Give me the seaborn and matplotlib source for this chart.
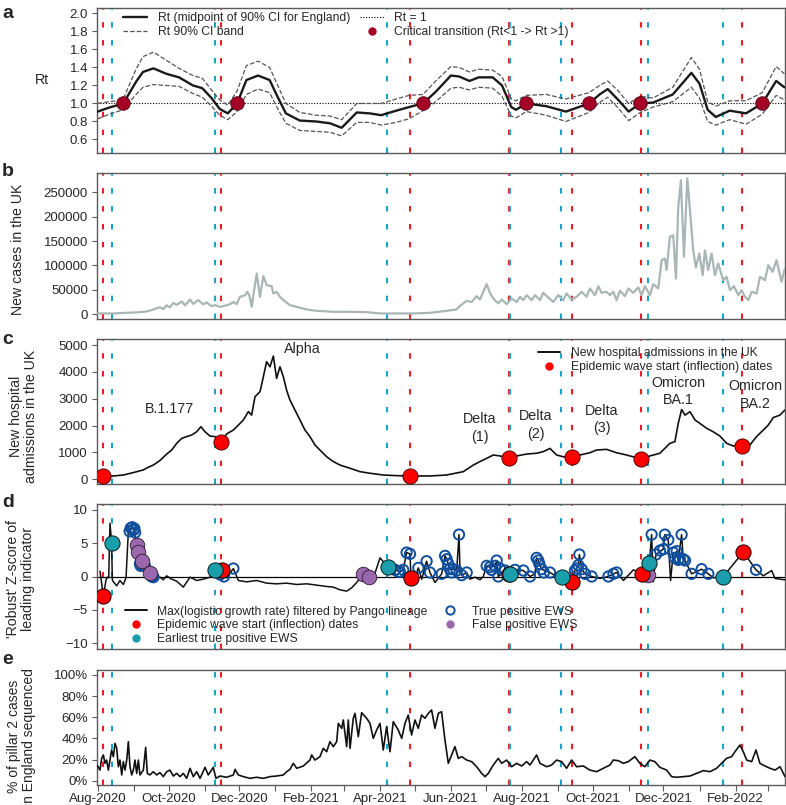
import numpy as np
import pandas as pd
import matplotlib
matplotlib.use('Agg')
import matplotlib.pyplot as plt
import matplotlib.dates as mdates
import matplotlib.ticker as mticker
from matplotlib.lines import Line2D
import seaborn as sns

sns.set_style('ticks')
plt.rcParams['font.family'] = ['Liberation Sans', 'DejaVu Sans']

# ---- data ----
START = pd.Timestamp('2020-08-01')

wave_start = ['2020-08-06', '2020-11-15', '2021-04-27', '2021-07-21',
              '2021-09-13', '2021-11-12', '2022-02-07']
earliest_ews = ['2020-08-13', '2020-11-10', '2021-04-07', '2021-07-22',
                '2021-09-04', '2021-11-18', '2022-01-21']

# panel a: Rt
rt_dates = ['2020-08-01', '2020-08-11', '2020-08-18', '2020-08-23', '2020-09-03', '2020-09-09',
            '2020-09-18', '2020-09-29', '2020-10-10', '2020-10-22', '2020-10-30', '2020-11-07',
            '2020-11-14', '2020-11-21', '2020-11-29', '2020-12-07', '2020-12-17', '2020-12-27',
            '2021-01-03', '2021-01-10', '2021-01-22', '2021-02-05', '2021-02-17', '2021-02-27',
            '2021-03-12', '2021-03-23', '2021-04-02', '2021-04-15', '2021-04-26', '2021-05-08',
            '2021-05-19', '2021-06-01', '2021-06-08', '2021-06-17', '2021-06-25', '2021-07-07',
            '2021-07-15', '2021-07-23', '2021-07-27', '2021-08-05', '2021-08-22', '2021-09-08',
            '2021-09-28', '2021-10-07', '2021-10-14', '2021-10-23', '2021-11-01', '2021-11-11',
            '2021-11-22', '2021-12-09', '2021-12-25', '2022-01-01', '2022-01-08', '2022-01-15',
            '2022-01-27', '2022-02-10', '2022-02-24', '2022-03-08', '2022-03-15']
rt_mid = [0.91, 0.955, 0.98, 1.00, 1.24, 1.35, 1.39, 1.33, 1.29, 1.20, 1.17, 1.06,
          0.94, 0.89, 1.00, 1.26, 1.31, 1.26, 1.07, 0.89, 0.81, 0.80, 0.78, 0.73,
          0.90, 0.89, 0.87, 0.92, 0.96, 1.00, 1.13, 1.31, 1.30, 1.25, 1.29, 1.29,
          1.20, 0.96, 0.93, 1.00, 0.97, 0.91, 1.00, 1.10, 1.16, 1.04, 0.91, 1.00,
          1.01, 1.10, 1.34, 1.22, 0.93, 0.85, 0.92, 0.89, 1.00, 1.25, 1.18]
rt_upper = [1.00, 1.02, 1.03, 1.05, 1.38, 1.52, 1.57, 1.48, 1.39, 1.31, 1.28, 1.15,
            1.04, 0.98, 1.14, 1.42, 1.47, 1.40, 1.20, 1.00, 0.90, 0.87, 0.86, 0.82,
            1.00, 1.00, 1.00, 1.05, 1.09, 1.10, 1.25, 1.41, 1.40, 1.35, 1.38, 1.37,
            1.30, 1.05, 1.03, 1.09, 1.10, 1.05, 1.12, 1.20, 1.25, 1.14, 1.00, 1.08,
            1.06, 1.18, 1.51, 1.38, 1.02, 0.97, 1.03, 1.03, 1.12, 1.41, 1.33]
rt_lower = [0.83, 0.88, 0.91, 0.93, 1.10, 1.18, 1.21, 1.20, 1.19, 1.11, 1.07, 0.97,
            0.87, 0.82, 0.91, 1.10, 1.16, 1.12, 0.94, 0.78, 0.70, 0.69, 0.68, 0.64,
            0.79, 0.79, 0.76, 0.79, 0.83, 0.92, 1.02, 1.17, 1.18, 1.15, 1.18, 1.17,
            1.08, 0.86, 0.84, 0.91, 0.87, 0.80, 0.90, 1.01, 1.07, 0.95, 0.81, 0.90,
            0.96, 1.02, 1.18, 1.06, 0.80, 0.76, 0.82, 0.77, 0.88, 1.09, 1.04]
crit_dates = ['2020-08-23', '2020-11-29', '2021-05-08', '2021-08-05',
              '2021-09-28', '2021-11-11', '2022-02-24']
crit_rt = [1.0, 1.0, 1.0, 1.0, 1.0, 1.0, 1.0]

# panel b: new cases (days since 1 Aug 2020)
case_days = [0, 13.5, 25, 36.4, 42.2, 46.5, 50.8, 53.6, 56.5, 59.4,
             62.2, 65.1, 68, 72.3, 75.2, 79.5, 82.3, 86.6, 90.9, 93.8,
             98.1, 101, 105.3, 108.1, 113.9, 116.8, 119.6, 122.5, 126.8, 128.8,
             130.5, 132.6, 134.6, 136.9, 139.7, 142.6, 145.4, 149.7, 151.2, 154,
             156.9, 159.8, 165.5, 171.2, 179.8, 188.4, 202.8, 217.2, 231.5,
             243, 271.7, 286, 300.3, 309, 311.8, 317.6, 321.9, 326.2, 329,
             331.9, 334.8, 337.6, 340.5, 344.8, 347.7, 352, 356.3, 360.6, 363.5,
             366.3, 369.2, 373.5, 376.4, 380.7, 383.5, 387.8, 392.1, 396.4, 400.7,
             403.6, 407.9, 412.2, 416.5, 420.8, 423.7, 428, 430.9, 433.7, 438,
             440.9, 443.7, 446.6, 449.5, 453.8, 456.7, 461, 465.3, 468.1, 471,
             475.3, 478.2, 482.5, 485.4, 488.2, 489.7, 492.5, 495.4, 497.7, 499.7,
             502, 504.6, 507.5, 509.8, 512.6, 514.9, 517.8, 520.7, 522.7, 525.5,
             528.4, 531.3, 534.1, 538.4, 541.3, 544.2, 547.6, 551.4, 554.2, 557.1,
             560, 562.9, 567.2, 570, 574.3, 577.2, 580.9, 584.3, 588.6, 591.5]
case_vals = [1400, 1400, 2700, 4000, 5500, 8500, 12000, 14000, 10500, 18000,
             14000, 23000, 19000, 26000, 18000, 30000, 21000, 29000, 20000, 24000,
             16400, 18500, 15000, 16400, 20500, 25000, 20500, 35600, 39000, 45900,
             39000, 15000, 48000, 83500, 35600, 78000, 59600, 57500, 42500, 45900,
             35600, 28800, 18500, 15000, 9600, 6800, 4800, 4800, 4100,
             1400, 1400, 2700, 6800, 9600, 17000, 27400, 25000, 37000, 30000,
             45900, 61600, 43800, 32000, 22000, 30000, 20500, 32000, 25000, 35600,
             28800, 39000, 28800, 39000, 28800, 43800, 34200, 25000, 39000, 28800,
             42500, 30000, 35600, 45900, 35600, 52700, 39000, 57500, 43800, 45900,
             39000, 45900, 28800, 48000, 37000, 52700, 43800, 54800, 39000, 57500,
             39000, 61600, 52700, 111000, 114000, 90400, 159000, 162000, 73000, 220000,
             275000, 118000, 279000, 213600, 131000, 95800, 124600, 80000, 131000, 90400,
             124600, 80000, 104000, 69800, 76700, 49300, 57500, 39000, 49300, 35600,
             28800, 45900, 42500, 76700, 69800, 100600, 87000, 111000, 66400, 93800]

# panel c: hospital admissions
adm_days = [0, 13.5, 22.1, 30.7, 39.3, 43.6, 47.9, 53.6, 59.4, 63.7,
            68, 72.3, 76.6, 80.9, 85.2, 88.9, 92.4, 96.7, 101, 106.7,
            111, 116.8, 121.1, 125.4, 129.7, 132.5, 135.4, 139.7, 142.6, 145.4,
            148.3, 151.2, 154, 156.9, 159.8, 162.6, 165.5, 169.8, 174.1, 178.4,
            182.7, 187, 191.3, 197.1, 202.8, 208.6, 217.2, 225.8, 234.4, 245.8,
            257.3, 269.7, 286, 300.3, 314.7, 323.3, 329, 334.8, 340.5, 346.3,
            354, 360.6, 369.2, 377.8, 383.5, 389.3, 395, 400.7, 408.8, 415.1,
            423.7, 429.4, 438, 446.6, 455.2, 462.4, 468.7, 475.3, 483.9, 492.5,
            496.8, 499.7, 502.6, 505.5, 509.8, 514.1, 518.4, 524.1, 529.8, 535.6,
            541.3, 547, 551.4, 555.6, 561.4, 567.1, 572.9, 577.2, 581.5, 587.2, 591.5]
adm_vals = [100, 124, 160, 250, 350, 450, 530, 700, 940, 1090,
            1340, 1525, 1590, 1650, 1770, 1960, 1770, 1610, 1590, 1400,
            1690, 1835, 2020, 2210, 2520, 2390, 3075, 3260, 3820, 4380,
            4190, 4590, 3760, 4190, 3820, 3320, 2950, 2580, 2210, 1835,
            1590, 1280, 1090, 840, 660, 530, 410, 285, 225, 160,
            136, 124, 124, 160, 285, 530, 660, 780, 905, 870,
            780, 870, 940, 970, 1030, 1150, 905, 840, 820, 905,
            990, 1090, 1115, 990, 905, 820, 745, 870, 970, 1340,
            1400, 2080, 2600, 2390, 2520, 2210, 2080, 1900, 1770, 1610,
            1340, 1240, 1280, 1240, 1280, 1590, 1835, 2020, 2300, 2390, 2580]
inflection_adm = [124, 1400, 124, 780, 820, 745, 1240]
variant_labels = ['B.1.177', 'Alpha', 'Delta\n(1)', 'Delta\n(2)', 'Delta\n(3)',
                  'Omicron\nBA.1', 'Omicron\nBA.2']
variant_dates = ['2020-10-02', '2021-01-24', '2021-06-26', '2021-08-13',
                 '2021-10-09', '2021-12-14', '2022-02-18']
variant_y = [2615, 4870, 1910, 2020, 2240, 3280, 3140]

# panel d: robust Z-score of the leading indicator
z_days = [2.0, 4.9, 7.2, 8.3, 9.5, 10.6, 12.0, 12.6, 13.5, 16.4,
          19.2, 22.1, 24.4, 26.4, 29.3, 31.3, 33.6, 35.0, 36.4, 37.9,
          40.7, 45.0, 46.5, 49.3, 53.6, 56.5, 59.4, 63.7, 68.0, 73.7,
          79.5, 85.2, 90.9, 96.7, 101.0, 106.7, 108.7, 111.0, 116.8, 121.1,
          128.2, 136.8, 145.4, 154.0, 162.6, 171.3, 179.9, 188.5, 197.1, 202.8,
          208.6, 214.3, 218.6, 222.9, 227.2, 228.6, 233.5, 237.2, 243.0, 249.6,
          256.0, 260.2, 263.0, 265.9, 268.8, 269.7, 273.1, 276.0, 278.9, 283.1,
          286.0, 290.3, 296.1, 299.0, 300.4, 301.8, 303.2, 306.1, 309.0, 311.0,
          311.9, 313.3, 317.6, 320.4, 324.8, 329.1, 331.9, 334.8, 337.6, 342.0,
          343.4, 344.8, 350.6, 354.9, 359.2, 366.4, 372.1, 376.4, 377.8, 379.2,
          380.1, 382.1, 389.3, 395.0, 399.3, 408.0, 410.8, 413.7, 414.6, 416.6,
          419.5, 425.2, 432.4, 439.6, 443.9, 446.7, 452.5, 461.1, 468.2, 473.4,
          474.8, 476.8, 478.2, 480.5, 486.8, 488.2, 491.1, 493.1, 495.4, 496.8,
          498.3, 499.7, 502.6, 504.0, 505.5, 511.2, 519.8, 525.6, 529.9, 538.5,
          555.7, 566.6, 572.9, 580.1, 583.0, 591.6]
z_vals = [0.8, -2.9, -0.5, -0.1, -0.2, 8.0, 5.1, -0.5, -0.8, -1.4,
          -0.6, -1.2, -0.2, 6.8, 7.3, 7.0, 4.7, 3.7, 1.9, 2.3,
          1.6, 0.5, 0.0, -0.3, -0.1, -0.5, 0.1, -0.4, -0.7, -1.6,
          -0.1, -0.6, -0.4, -0.1, 1.0, 1.0, 0.0, -0.2, 1.2, -0.6,
          -0.8, -0.6, -1.0, -1.1, -1.0, -1.2, -1.1, -1.3, -1.5, -1.6,
          -2.0, -2.2, -1.7, -0.9, 0.0, 0.4, 0.0, -0.3, 2.8, 1.5,
          1.0, 0.7, 1.0, 3.6, 3.4, -0.3, -0.2, 1.3, -0.4, 2.3,
          0.6, -0.9, 0.4, 3.1, 2.6, 1.9, 1.1, 1.1, 0.9, 6.3,
          0.5, 0.2, 0.6, -0.4, -0.1, -0.5, 0.0, 1.6, 1.4, 1.6,
          2.4, 0.0, 0.9, 0.4, 1.0, 0.9, 0.0, 0.4, 2.8, 2.4,
          1.9, 1.1, 0.6, 0.0, 0.0, -0.8, 0.9, 1.7, 3.3, 1.1,
          0.4, 0.0, -0.3, 0.0, 0.4, 0.6, -0.6, 1.0, 0.4, 0.2,
          2.0, 6.3, -0.8, 3.3, 4.1, 6.3, 5.5, -0.6, 3.6, 2.8,
          3.8, 2.5, 6.3, 2.6, 2.4, 0.4, 1.1, 0.4, -0.2, 0.0,
          3.7, 1.0, 0.1, 0.9, -0.3, -0.5]
tp_days = [27.5, 28.5, 29.8, 31.0, 31.6, 32.2, 36.4, 37.0, 40.7, 46.5,
           48.0, 105.3, 108.7, 116.8, 256.0, 258.8, 260.2, 263.0, 265.9, 268.8,
           276.0, 283.1, 286.0, 296.1, 299.0, 300.4, 301.8, 303.2, 304.6, 306.1,
           309.0, 311.0, 313.3, 317.6, 334.8, 337.6, 339.0, 342.0, 343.4, 344.8,
           346.2, 350.6, 359.2, 366.4, 372.1, 377.8, 379.2, 380.1, 382.1, 384.0,
           389.3, 410.8, 412.5, 413.7, 414.6, 416.6, 419.5, 425.2, 439.6, 443.9,
           446.7, 476.8, 480.5, 484.0, 486.8, 488.2, 491.1, 495.4, 496.8, 498.3,
           499.7, 501.0, 502.6, 504.0, 505.5, 511.2, 519.8, 525.6, 566.6]
tp_z = [6.8, 7.3, 7.4, 7.0, 7.2, 6.6, 1.9, 1.6, 1.6, 0.0,
        -0.1, 0.3, 0.0, 1.2, 1.0, 0.7, 0.7, 1.0, 3.6, 3.4,
        1.3, 2.3, 0.6, 0.4, 3.1, 2.6, 1.9, 1.1, 0.6, 1.1,
        0.9, 6.3, 0.2, 0.6, 1.6, 1.4, 1.0, 1.6, 2.4, 0.0,
        1.2, 0.9, 1.0, 0.9, 0.0, 2.8, 2.4, 1.9, 1.1, 0.6,
        0.6, 0.9, 1.2, 1.7, 3.3, 1.1, 0.4, 0.0, 0.0, 0.4,
        0.6, 6.3, 3.3, 3.9, 4.1, 6.3, 5.5, 3.6, 2.8, 3.8,
        2.5, 2.7, 6.3, 2.6, 2.4, 0.4, 1.1, 0.4, 1.0]
fp_days = [33.6, 35.0, 37.9, 45.0, 228.6, 233.5, 473.4]
fp_z = [4.7, 3.7, 2.3, 0.5, 0.4, 0.0, 0.2]
first_tp_days = [12.0, 101.0, 249.6, 354.9, 399.3, 474.8, 538.5]
first_tp_z = [5.1, 1.0, 1.5, 0.4, 0.0, 2.0, 0.0]
wave_z_days = [4.9, 106.7, 269.7, 354.0, 408.0, 468.2, 555.7]
wave_z = [-2.9, 1.0, -0.3, 0.4, -0.8, 0.4, 3.7]

# panel e: % of pillar 2 cases sequenced
seq_days = [0, 2.0, 3.4, 4.9, 6.3, 7.7, 9.2, 10.6, 12.0, 13.5,
            14.9, 16.4, 17.8, 19.2, 20.7, 22.1, 23.5, 25.0, 26.4, 27.8,
            29.3, 30.7, 32.1, 33.6, 35.0, 36.4, 39.3, 41.3, 42.7, 45.0,
            47.9, 50.8, 53.6, 56.5, 59.4, 62.2, 65.1, 68.0, 70.9, 73.7,
            76.6, 79.5, 82.3, 85.2, 88.1, 92.4, 95.2, 99.5, 101.8, 105.3,
            111.0, 116.8, 118.2, 121.1, 125.4, 131.1, 136.8, 142.6, 148.3, 154.0,
            159.8, 162.7, 165.5, 168.4, 171.3, 177.0, 182.7, 184.2, 187.0, 191.3,
            194.2, 197.1, 199.9, 202.8, 205.7, 207.1, 210.0, 211.4, 214.3, 215.7,
            217.2, 220.0, 221.5, 224.3, 227.2, 231.5, 234.4, 237.2, 240.1, 243.0,
            245.8, 248.7, 251.6, 254.4, 258.7, 261.7, 264.5, 267.3, 270.2, 273.1,
            275.9, 278.8, 281.7, 284.6, 287.4, 290.3, 293.2, 296.0, 298.9, 301.8,
            304.7, 307.5, 310.4, 313.3, 317.6, 321.9, 326.2, 330.5, 333.4, 336.2,
            340.5, 344.8, 347.7, 352.0, 356.3, 360.6, 364.9, 369.2, 372.1, 377.8,
            380.7, 386.4, 390.7, 395.0, 399.3, 403.6, 407.9, 412.2, 418.0, 423.7,
            429.4, 435.2, 440.9, 443.8, 448.1, 452.4, 456.7, 462.4, 466.7, 471.0,
            475.3, 479.6, 483.9, 489.7, 494.0, 498.3, 504.0, 509.8, 515.5, 521.3,
            527.0, 532.7, 538.5, 541.3, 545.6, 548.5, 552.8, 555.7, 558.6, 562.9,
            566.6, 570.0, 574.3, 578.7, 583.0, 587.3, 591.6]
seq_pct = [13.9, 10, 21, 24.3, 16.4, 19.5, 10, 19.5, 29, 22.7,
           35.3, 30.6, 13.2, 19.5, 5.4, 18, 10, 19.5, 36.9, 13.2,
           5.4, 10, 19.5, 6.9, 19.5, 5.4, 10, 31.5, 6.9, 5.4,
           8.5, 5.4, 7.6, 3.8, 8.5, 10, 4.4, 6.9, 3.8, 6.9,
           2.2, 11.7, 3.8, 8.5, 2.2, 12.6, 5.4, 12.6, 2.2, 4.4,
           3.2, 5.4, 10.7, 5.4, 3.8, 2.2, 3.2, 2.2, 3.8, 4.4,
           5.4, 8.5, 10.7, 16.4, 11.7, 13.9, 19.5, 24.3, 19.5, 22.7,
           30.6, 27.4, 36.9, 32.2, 36.9, 54.2, 49.5, 57.4, 32.2, 57.4,
           30.6, 59, 63.7, 41.6, 64.3, 59, 54.2, 40, 47.9, 54.2,
           29, 51, 27.4, 55.8, 47.9, 40, 54.2, 62.1, 43.2, 57.4,
           49.5, 62.1, 59, 63.7, 66.9, 49.5, 63.7, 65.3, 38.5, 16.4,
           24.3, 32.2, 21.1, 22.7, 19.5, 18, 13.2, 6.9, 3.8, 6.9,
           14.8, 21.1, 16.4, 19.5, 13.2, 16.4, 13.9, 18, 14.8, 24.3,
           16.4, 13.2, 14.8, 19.5, 18, 11.7, 19.5, 13.2, 13.9, 10,
           8.5, 11.7, 14.8, 19.5, 18.9, 16.4, 18, 22.7, 16.4, 13.2,
           19.5, 18, 12.6, 10, 3.8, 3.2, 3.8, 4.4, 6.9, 9.5,
           8.5, 11.7, 18, 21.1, 22.7, 27.4, 33.7, 27.4, 19.5, 18,
           29, 16.4, 13.9, 11.7, 10, 13.2, 3.8]


def to_dates(days):
    return START + pd.to_timedelta(np.asarray(days, dtype=float), unit='D')


RED = '#ee1c25'
CYAN = '#19a3c6'
CRIT = '#a50026'
TEAL = '#1a9eac'
PURPLE = '#9b68ad'
BLUE = '#0f4f9e'
CASE_GREY = '#a9b6b6'
SPINE = '#5a5a5a'
LEG_FS = 8.7
LAB_FS = 10.2

fig = plt.figure(figsize=(7.86, 8.05), dpi=100)
left, width = 97 / 786, 688 / 786
pos = {'a': (8, 153), 'b': (173, 319), 'c': (339, 484), 'd': (504, 649), 'e': (670, 785)}
axes = {}
for k, (top, bot) in pos.items():
    axes[k] = fig.add_axes([left, 1 - bot / 805, width, (bot - top) / 805])

x0 = START - pd.Timedelta(hours=14)
x1 = pd.Timestamp('2022-03-15 14:00')


def style(ax, show_x=False):
    ax.set_xlim(x0, x1)
    for s in ax.spines.values():
        s.set_color(SPINE)
        s.set_linewidth(1.0)
    ax.tick_params(axis='y', direction='out', length=3.5, width=0.8, color=SPINE,
                   labelsize=9.5, pad=3)
    ax.xaxis.set_major_locator(mdates.MonthLocator(bymonth=[2, 4, 6, 8, 10, 12]))
    ax.xaxis.set_minor_locator(mdates.MonthLocator())
    if show_x:
        ax.xaxis.set_major_formatter(mdates.DateFormatter('%b-%Y'))
        ax.tick_params(axis='x', which='both', direction='out', length=4, width=0.8,
                       color=SPINE, labelsize=9.5, pad=1.5)
    else:
        ax.tick_params(axis='x', which='both', bottom=False, labelbottom=False)
    ax.set_xlabel('')
    ax.grid(False)


def wave_lines(ax):
    for d in wave_start:
        ax.axvline(pd.Timestamp(d), color=RED, lw=1.5, ls=(0, (2.6, 6.0)), zorder=1)
    for d in earliest_ews:
        ax.axvline(pd.Timestamp(d), color=CYAN, lw=1.5, ls=(0, (2.6, 6.0)), zorder=1)


# ---- a: Rt ----
ax = axes['a']
rt_x = pd.to_datetime(rt_dates)
sns.lineplot(x=rt_x, y=rt_mid, ax=ax, color='#1a1a1a', lw=1.7, zorder=4)
sns.lineplot(x=rt_x, y=rt_upper, ax=ax, color='#555555', lw=0.9, ls='--', zorder=3)
sns.lineplot(x=rt_x, y=rt_lower, ax=ax, color='#555555', lw=0.9, ls='--', zorder=3)
ax.axhline(1.0, color='black', lw=0.8, ls=(0, (1, 1.5)), zorder=2)
sns.scatterplot(x=pd.to_datetime(crit_dates), y=crit_rt, ax=ax, color=CRIT, s=95,
                edgecolor='#50000f', linewidth=0.6, zorder=6)
wave_lines(ax)
ax.set_ylim(0.45, 2.06)
ax.set_yticks(np.arange(0.6, 2.01, 0.2))
ax.yaxis.set_major_formatter(mticker.FormatStrFormatter('%.1f'))
style(ax)
ax.set_ylabel('Rt', rotation=0, fontsize=LAB_FS, ha='center', va='center')
ax.yaxis.set_label_coords(-0.080, 0.50)
h_a = [Line2D([], [], color='#1a1a1a', lw=1.7),
       Line2D([], [], color='#555555', lw=0.9, ls='--'),
       Line2D([], [], color='black', lw=0.8, ls=(0, (1, 1.5))),
       Line2D([], [], color=CRIT, marker='o', ls='', markersize=5)]
l_a = ['Rt (midpoint of 90% CI for England)', 'Rt 90% CI band', 'Rt = 1',
       'Critical transition (Rt<1 -> Rt >1)']
ax.legend(h_a, l_a, ncol=2, loc='upper left', bbox_to_anchor=(0.038, 0.972), frameon=False,
          fontsize=LEG_FS, handlelength=2.0, handletextpad=0.85, columnspacing=0.8,
          labelspacing=0.2, borderaxespad=0, borderpad=0)

# ---- b: cases ----
ax = axes['b']
sns.lineplot(x=to_dates(case_days), y=case_vals, ax=ax, color=CASE_GREY, lw=1.6, zorder=3)
wave_lines(ax)
ax.set_ylim(-10000, 290000)
ax.set_yticks(range(0, 250001, 50000))
style(ax)
ax.set_ylabel('New cases in the UK', fontsize=LAB_FS)
ax.yaxis.set_label_coords(-0.1047, 0.48)

# ---- c: hospital admissions ----
ax = axes['c']
sns.lineplot(x=to_dates(adm_days), y=adm_vals, ax=ax, color='#111111', lw=1.2, zorder=3)
wave_lines(ax)
sns.scatterplot(x=pd.to_datetime(wave_start), y=inflection_adm, ax=ax, color='#ff0000', s=120,
                edgecolor='#3a0000', linewidth=0.6, zorder=6)
for lab, d, yv in zip(variant_labels, variant_dates, variant_y):
    ax.text(pd.Timestamp(d), yv, lab, ha='center', va='center', fontsize=10.3,
            linespacing=1.3, zorder=7)
ax.set_ylim(-175, 5225)
ax.set_yticks(range(0, 5001, 1000))
style(ax)
ax.set_ylabel('New hospital\nadmissions in the UK', fontsize=LAB_FS, linespacing=1.1)
ax.yaxis.set_label_coords(-0.086, 0.465)
h_c = [Line2D([], [], color='#111111', lw=1.4),
       Line2D([], [], color='#ff0000', marker='o', ls='', markersize=5)]
l_c = ['New hospital admissions in the UK', 'Epidemic wave start (inflection) dates']
ax.legend(h_c, l_c, loc='upper left', bbox_to_anchor=(0.641, 0.942), frameon=False,
          fontsize=LEG_FS, handlelength=1.8, handletextpad=0.95, labelspacing=0.15,
          borderaxespad=0, borderpad=0)

# ---- d: Z-score ----
ax = axes['d']
ax.axhline(0, color='black', lw=0.9, zorder=2)
sns.lineplot(x=to_dates(z_days), y=z_vals, ax=ax, color='#111111', lw=1.1, zorder=3)
wave_lines(ax)
sns.scatterplot(x=to_dates(tp_days), y=tp_z, ax=ax, color='none', edgecolor=BLUE, s=55,
                linewidth=1.4, zorder=4)
sns.scatterplot(x=to_dates(fp_days), y=fp_z, ax=ax, color=PURPLE, s=110,
                edgecolor='#2a1a30', linewidth=0.6, zorder=5)
sns.scatterplot(x=to_dates(wave_z_days), y=wave_z, ax=ax, color='#ff0000', s=120,
                edgecolor='#1a0000', linewidth=0.7, zorder=6)
sns.scatterplot(x=to_dates(first_tp_days), y=first_tp_z, ax=ax, color=TEAL, s=120,
                edgecolor='#0a1a1a', linewidth=0.7, zorder=7)
ax.set_ylim(-10.9, 10.9)
ax.set_yticks([-10, -5, 0, 5, 10])
style(ax)
ax.set_ylabel("'Robust' Z-score of\nleading indicator", fontsize=LAB_FS, linespacing=1.1)
ax.yaxis.set_label_coords(-0.090, 0.48)
h_d = [Line2D([], [], color='#111111', lw=1.4),
       Line2D([], [], color='#ff0000', marker='o', ls='', markersize=5),
       Line2D([], [], color=TEAL, marker='o', ls='', markersize=5),
       Line2D([], [], color=BLUE, marker='o', ls='', markersize=6, mfc='none', mew=1.4),
       Line2D([], [], color=PURPLE, marker='o', ls='', markersize=5)]
l_d = ['Max(logistic growth rate) filtered by Pango lineage',
       'Epidemic wave start (inflection) dates', 'Earliest true positive EWS',
       'True positive EWS', 'False positive EWS']
ax.legend(h_d, l_d, ncol=2, loc='upper left', bbox_to_anchor=(0.0407, 0.30), frameon=False,
          fontsize=LEG_FS, handlelength=1.8, handletextpad=0.85, columnspacing=1.0,
          labelspacing=0.15, borderaxespad=0, borderpad=0)

# ---- e: % sequenced ----
ax = axes['e']
sns.lineplot(x=to_dates(seq_days), y=seq_pct, ax=ax, color='#111111', lw=1.2, zorder=3)
wave_lines(ax)
ax.set_ylim(-4.1, 104.7)
ax.set_yticks(range(0, 101, 20))
ax.yaxis.set_major_formatter(mticker.FormatStrFormatter('%d%%'))
style(ax, show_x=True)
ax.set_ylabel('% of pillar 2 cases\nin England sequenced', fontsize=10.0, linespacing=1.1)
ax.yaxis.set_label_coords(-0.088, 0.42)

# panel letters
for lab, yb in zip('abcde', [18.5, 176.5, 343.5, 506.5, 663.5]):
    fig.text(2 / 786, 1 - yb / 805, lab, fontsize=14, fontweight='bold', va='baseline',
             ha='left')

fig.savefig('out.png', dpi=100)
